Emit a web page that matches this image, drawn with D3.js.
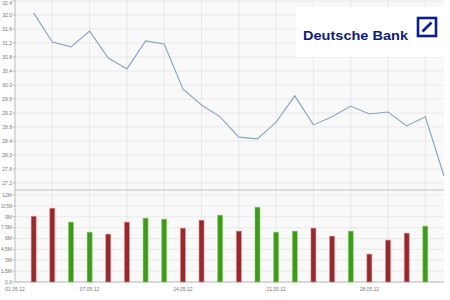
<!DOCTYPE html>
<html>
<head>
  <script src="https://d3js.org/d3.v7.min.js"></script>
  <style>
    body { margin: 0; background: #ffffff; font-family: "Liberation Sans", Arial, sans-serif; }
    .tick-label { font-size: 5px; fill: #777; }
  </style>
</head>
<body>
  <svg id="chart" width="450" height="300"></svg>
  <script>
    // Trading days, May 2012 (01.05 has no trading)
    const days = ["01.05.12", "02.05.12", "03.05.12", "04.05.12", "07.05.12", "08.05.12",
      "09.05.12", "10.05.12", "11.05.12", "14.05.12", "15.05.12", "16.05.12", "17.05.12",
      "18.05.12", "21.05.12", "22.05.12", "23.05.12", "24.05.12", "25.05.12", "28.05.12",
      "29.05.12", "30.05.12", "31.05.12", "01.06.12"];

    // Closing prices from 02.05.12
    const closes = [32.06, 31.23, 31.09, 31.54, 30.77, 30.46, 31.26, 31.17, 29.89, 29.43,
      29.09, 28.51, 28.46, 28.94, 29.69, 28.86, 29.09, 29.40, 29.17, 29.23, 28.83, 29.09, 27.40];

    // Volumes from 02.05.12 (millions), up = green, down = red
    const volumes = [9.08, 10.18, 8.26, 6.88, 6.61, 8.26, 8.81, 8.67, 7.43, 8.53, 9.22,
      7.02, 10.32, 6.88, 7.02, 7.43, 6.33, 7.02, 3.85, 5.78, 6.74, 7.71];
    const volumeUp = [false, false, true, true, false, false, true, true, false, false, true,
      false, true, true, true, false, false, true, false, false, false, true];

    const priceTicks = [27.2, 27.6, 28.0, 28.4, 28.8, 29.2, 29.6, 30.0, 30.4, 30.8, 31.2, 31.6, 32.0, 32.4];
    const volumeTicks = [0, 1.5, 3, 4.5, 6, 7.5, 9, 10.5, 12];
    const volumeLabels = ["0.0", "1.5M", "3M", "4.5M", "6M", "7.5M", "9M", "10.5M", "12M"];
    const dateTicks = ["01.05.12", "07.05.12", "14.05.12", "21.05.12", "28.05.12"];

    const left = 15, right = 444;
    const svg = d3.select("#chart");

    const x = d3.scalePoint().domain(days).range([left, right]).padding(0);
    const yPrice = d3.scaleLinear().domain([27.2, 32.4]).range([183, 1]);
    const yVol = d3.scaleLinear().domain([0, 12]).range([282, 195]);

    // Panel backgrounds
    svg.append("rect").attr("x", left).attr("y", 0).attr("width", right - left).attr("height", 189)
      .attr("fill", "#f9f9f9");
    svg.append("rect").attr("x", left).attr("y", 191).attr("width", right - left).attr("height", 91)
      .attr("fill", "#f9f9f9");

    // Vertical grid lines every second day
    const vDays = days.filter((d, i) => i > 0 && i % 2 === 0);
    svg.append("g").selectAll("line").data(vDays).join("line")
      .attr("x1", d => x(d)).attr("x2", d => x(d))
      .attr("y1", 0).attr("y2", 282)
      .attr("stroke", "#e2e2e2").attr("stroke-width", 0.8);

    // Horizontal grid lines
    svg.append("g").selectAll("line").data(priceTicks).join("line")
      .attr("x1", left).attr("x2", right)
      .attr("y1", d => yPrice(d)).attr("y2", d => yPrice(d))
      .attr("stroke", "#e6e6e6").attr("stroke-width", 0.8);
    svg.append("g").selectAll("line").data(volumeTicks).join("line")
      .attr("x1", left).attr("x2", right)
      .attr("y1", d => yVol(d)).attr("y2", d => yVol(d))
      .attr("stroke", "#e6e6e6").attr("stroke-width", 0.8);

    // Panel separator and bottom axis
    svg.append("line").attr("x1", left).attr("x2", right).attr("y1", 190).attr("y2", 190)
      .attr("stroke", "#bdbdbd").attr("stroke-width", 1.2);
    svg.append("line").attr("x1", left).attr("x2", right).attr("y1", yVol(0)).attr("y2", yVol(0))
      .attr("stroke", "#bdbdbd").attr("stroke-width", 1.2);
    svg.append("line").attr("x1", left).attr("x2", left).attr("y1", 0).attr("y2", 282)
      .attr("stroke", "#aaa").attr("stroke-width", 0.8);

    // Y labels
    const pl = svg.append("g");
    pl.selectAll("text").data(priceTicks).join("text")
      .attr("class", "tick-label").attr("x", 12).attr("y", d => Math.max(yPrice(d) + 1.8, 4.5))
      .attr("text-anchor", "end").text(d => d.toFixed(1));
    pl.selectAll("line").data(priceTicks).join("line")
      .attr("x1", 12.5).attr("x2", 15).attr("y1", d => yPrice(d)).attr("y2", d => yPrice(d))
      .attr("stroke", "#999").attr("stroke-width", 0.6);

    const vl = svg.append("g");
    vl.selectAll("text").data(volumeTicks).join("text")
      .attr("class", "tick-label").attr("x", 12).attr("y", d => yVol(d) + 1.8)
      .attr("text-anchor", "end").text((d, i) => volumeLabels[i])
      .attr("textLength", (d, i) => volumeLabels[i].length > 4 ? 11 : null)
      .attr("lengthAdjust", "spacingAndGlyphs");
    vl.selectAll("line").data(volumeTicks).join("line")
      .attr("x1", 12.5).attr("x2", 15).attr("y1", d => yVol(d)).attr("y2", d => yVol(d))
      .attr("stroke", "#999").attr("stroke-width", 0.6);

    // X labels
    svg.append("g").selectAll("text").data(dateTicks).join("text")
      .attr("class", "tick-label").attr("x", d => Math.max(x(d), 13)).attr("y", 291)
      .attr("text-anchor", "middle").text(d => d);

    // Volume bars
    const barDays = days.slice(1, 1 + volumes.length);
    svg.append("g").selectAll("rect").data(volumes).join("rect")
      .attr("x", (d, i) => x(barDays[i]) - 2.5)
      .attr("y", d => yVol(d))
      .attr("width", 5)
      .attr("height", d => yVol(0) - yVol(d))
      .attr("fill", (d, i) => volumeUp[i] ? "#3d9a1b" : "#932a2d")
      .attr("stroke", (d, i) => volumeUp[i] ? "#8fd26a" : "#e9898b")
      .attr("stroke-width", 0.6);

    // Price line
    const lineDays = days.slice(1, 1 + closes.length);
    const line = d3.line().x((d, i) => x(lineDays[i])).y(d => yPrice(d));
    svg.append("path").datum(closes)
      .attr("d", line)
      .attr("fill", "none")
      .attr("stroke", "#86a3c8")
      .attr("stroke-width", 1.1);

    // Logo
    const logo = svg.append("g");
    logo.append("rect").attr("x", 296).attr("y", 7).attr("width", 151).attr("height", 50).attr("fill", "#ffffff");
    logo.append("text").attr("x", 303).attr("y", 40)
      .attr("font-size", 13).attr("font-weight", "bold").attr("fill", "#0d1d7e")
      .attr("textLength", 105).attr("lengthAdjust", "spacingAndGlyphs")
      .text("Deutsche Bank");
    logo.append("rect").attr("x", 418).attr("y", 18).attr("width", 18).attr("height", 18)
      .attr("fill", "none").attr("stroke", "#0a1d96").attr("stroke-width", 2.6);
    logo.append("line").attr("x1", 422.5).attr("y1", 31.5).attr("x2", 431.5).attr("y2", 22.5)
      .attr("stroke", "#0a1d96").attr("stroke-width", 2.6);
  </script>
</body>
</html>
